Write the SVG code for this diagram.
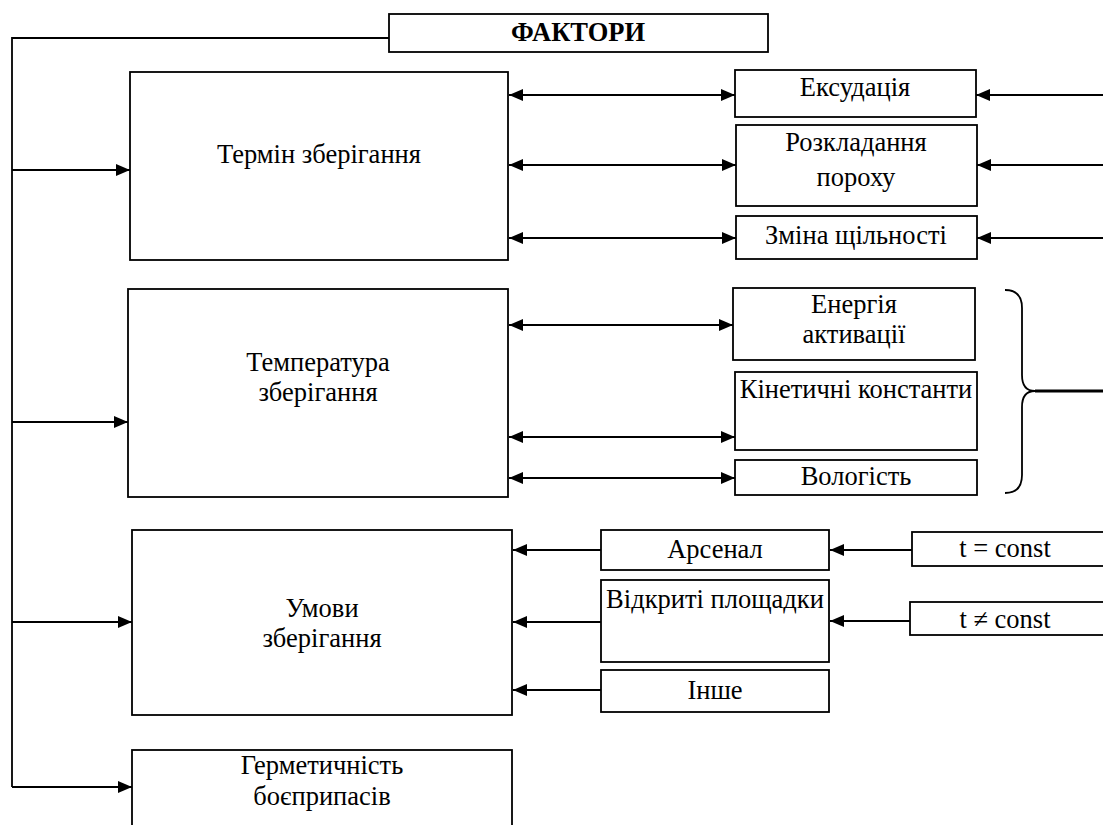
<svg xmlns="http://www.w3.org/2000/svg" width="1103" height="825" viewBox="0 0 1103 825">
<defs>
<marker id="ah" viewBox="0 0 14 12" refX="14" refY="6" markerWidth="14" markerHeight="12" markerUnits="userSpaceOnUse" orient="auto-start-reverse">
<path d="M0,0 L14,6 L0,12 Z" fill="#000"/>
</marker>
<style>
.b{fill:#fff;stroke:#000;stroke-width:1.8}
.t{font-family:"Liberation Serif","Times New Roman",serif;font-size:26.5px;fill:#000;text-anchor:middle}
.c{fill:none;stroke:#000;stroke-width:1.8}
</style>
</defs>
<rect width="1103" height="825" fill="#fff"/>
<g id="connectors">
<polyline class="c" points="389,38 12,38 12,787"/>
<line class="c" x1="12" y1="170" x2="130" y2="170" marker-end="url(#ah)"/>
<line class="c" x1="12" y1="422" x2="128" y2="422" marker-end="url(#ah)"/>
<line class="c" x1="12" y1="622" x2="132" y2="622" marker-end="url(#ah)"/>
<line class="c" x1="12" y1="787" x2="132" y2="787" marker-end="url(#ah)"/>
<line class="c" x1="509" y1="95" x2="735" y2="95" marker-start="url(#ah)" marker-end="url(#ah)"/>
<line class="c" x1="509" y1="165" x2="736" y2="165" marker-start="url(#ah)" marker-end="url(#ah)"/>
<line class="c" x1="509" y1="238" x2="736" y2="238" marker-start="url(#ah)" marker-end="url(#ah)"/>
<line class="c" x1="1103" y1="95" x2="976" y2="95" marker-end="url(#ah)"/>
<line class="c" x1="1103" y1="165" x2="977" y2="165" marker-end="url(#ah)"/>
<line class="c" x1="1103" y1="238" x2="977" y2="238" marker-end="url(#ah)"/>
<line class="c" x1="509" y1="325" x2="733" y2="325" marker-start="url(#ah)" marker-end="url(#ah)"/>
<line class="c" x1="509" y1="437" x2="735" y2="437" marker-start="url(#ah)" marker-end="url(#ah)"/>
<line class="c" x1="509" y1="478" x2="735" y2="478" marker-start="url(#ah)" marker-end="url(#ah)"/>
<path class="c" d="M1005,290 Q1022,290 1022,308 L1022,375 Q1022,391 1035,391 Q1022,391 1022,407 L1022,475 Q1022,493 1005,493"/>
<line x1="1035" y1="391" x2="1103" y2="391" stroke="#000" stroke-width="3"/>
<line class="c" x1="601" y1="550" x2="513" y2="550" marker-end="url(#ah)"/>
<line class="c" x1="601" y1="622" x2="513" y2="622" marker-end="url(#ah)"/>
<line class="c" x1="601" y1="690" x2="513" y2="690" marker-end="url(#ah)"/>
<line class="c" x1="912" y1="550" x2="830" y2="550" marker-end="url(#ah)"/>
<line class="c" x1="910" y1="621" x2="830" y2="621" marker-end="url(#ah)"/>
</g>
<g id="n-faktory"><rect class="b" x="389" y="14" width="379" height="38"/><text class="t" x="578" y="41" font-weight="bold">ФАКТОРИ</text></g>
<g id="n-termin"><rect class="b" x="130" y="72" width="378" height="188"/><text class="t" x="319" y="163">Термін зберігання</text></g>
<g id="n-temp"><rect class="b" x="128" y="289" width="380" height="208"/><text class="t" x="318" y="371">Температура</text><text class="t" x="318" y="401">зберігання</text></g>
<g id="n-umovy"><rect class="b" x="132" y="530" width="380" height="185"/><text class="t" x="322" y="617">Умови</text><text class="t" x="322" y="647">зберігання</text></g>
<g id="n-herm"><rect class="b" x="132" y="750" width="380" height="90"/><text class="t" x="322" y="774">Герметичність</text><text class="t" x="322" y="805">боєприпасів</text></g>
<g id="n-eksud"><rect class="b" x="735" y="70" width="241" height="47"/><text class="t" x="855" y="96">Ексудація</text></g>
<g id="n-rozkl"><rect class="b" x="736" y="125" width="241" height="81"/><text class="t" x="856" y="151">Розкладання</text><text class="t" x="856" y="186">пороху</text></g>
<g id="n-zmina"><rect class="b" x="736" y="216" width="241" height="43"/><text class="t" x="856" y="244">Зміна щільності</text></g>
<g id="n-energ"><rect class="b" x="733" y="288" width="242" height="72"/><text class="t" x="854" y="313">Енергія</text><text class="t" x="854" y="343">активації</text></g>
<g id="n-kinet"><rect class="b" x="735" y="372" width="242" height="78"/><text class="t" x="856" y="398">Кінетичні константи</text></g>
<g id="n-volog"><rect class="b" x="735" y="460" width="242" height="35"/><text class="t" x="856" y="485">Вологість</text></g>
<g id="n-arsenal"><rect class="b" x="601" y="530" width="228" height="40"/><text class="t" x="715" y="558">Арсенал</text></g>
<g id="n-vidkr"><rect class="b" x="601" y="580" width="228" height="82"/><text class="t" x="715" y="608">Відкриті площадки</text></g>
<g id="n-inshe"><rect class="b" x="601" y="670" width="228" height="42"/><text class="t" x="715" y="699">Інше</text></g>
<g id="n-tconst"><rect class="b" x="912" y="532" width="200" height="34"/><text class="t" x="1005" y="557">t = const</text></g>
<g id="n-tnconst"><rect class="b" x="910" y="602" width="200" height="33"/><text class="t" x="1005" y="628">t ≠ const</text></g>
</svg>
